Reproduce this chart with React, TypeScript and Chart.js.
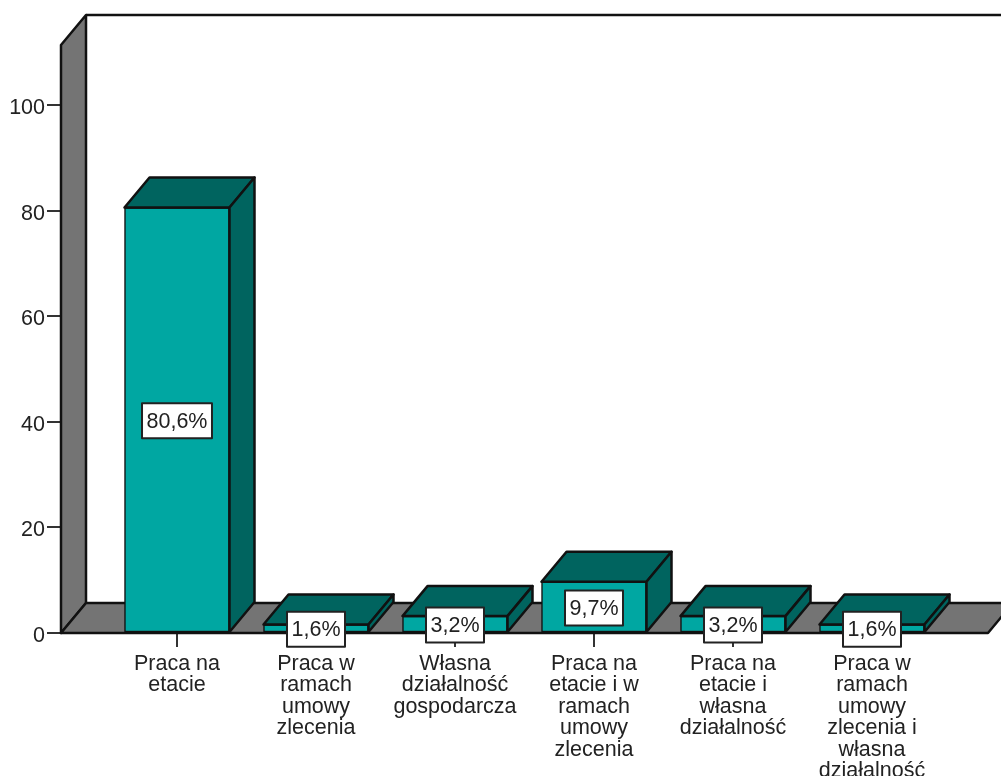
import React, { useEffect, useRef } from "react";
import { Chart, registerables } from "chart.js";

Chart.register(...registerables);

const categories: string[][] = [
  ["Praca na", "etacie"],
  ["Praca w", "ramach", "umowy", "zlecenia"],
  ["Własna", "działalność", "gospodarcza"],
  ["Praca na", "etacie i w", "ramach", "umowy", "zlecenia"],
  ["Praca na", "etacie i", "własna", "działalność"],
  ["Praca w", "ramach", "umowy", "zlecenia i", "własna", "działalność"],
];
const values = [80.6, 1.6, 3.2, 9.7, 3.2, 1.6];
const valueLabels = ["80,6%", "1,6%", "3,2%", "9,7%", "3,2%", "1,6%"];
const yTicks = [0, 20, 40, 60, 80, 100];

const FONT = '"Liberation Sans", Arial, sans-serif';
const FONT_SIZE = 21.5;
const TEAL = "#00a7a2";
const TEAL_DARK = "#00645f";
const WALL = "#747474";
const LINE = "#111111";
const DX = 25;
const DY = 30;

function poly(ctx: CanvasRenderingContext2D, pts: number[][], fill: string) {
  ctx.beginPath();
  pts.forEach((p, i) => (i ? ctx.lineTo(p[0], p[1]) : ctx.moveTo(p[0], p[1])));
  ctx.closePath();
  ctx.fillStyle = fill;
  ctx.fill();
  ctx.lineJoin = "round";
  ctx.lineWidth = 2.5;
  ctx.strokeStyle = LINE;
  ctx.stroke();
}

const boxPlugin = {
  id: "box3d",
  beforeDatasetsDraw(chart: any) {
    const { ctx, chartArea: a } = chart;
    ctx.save();
    ctx.beginPath();
    ctx.moveTo(a.left + DX, a.top - DY);
    ctx.lineTo(1001, a.top - DY);
    ctx.lineWidth = 2.5;
    ctx.strokeStyle = LINE;
    ctx.stroke();
    poly(ctx, [
      [a.left, a.top],
      [a.left + DX, a.top - DY],
      [a.left + DX, a.bottom - DY],
      [a.left, a.bottom],
    ], WALL);
    poly(ctx, [
      [a.left, a.bottom],
      [a.left + DX, a.bottom - DY],
      [a.right + DX, a.bottom - DY],
      [a.right, a.bottom],
    ], WALL);
    ctx.restore();
  },
  afterDatasetsDraw(chart: any) {
    const { ctx } = chart;
    const bars = chart.getDatasetMeta(0).data;
    ctx.save();
    bars.forEach((bar: any) => {
      const half = bar.width / 2;
      const l = bar.x - half;
      const r = bar.x + half;
      const t = bar.y;
      const b = bar.base;
      poly(ctx, [[l, t], [l + DX, t - DY], [r + DX, t - DY], [r, t]], TEAL_DARK);
      poly(ctx, [[r, t], [r + DX, t - DY], [r + DX, b - DY], [r, b]], TEAL_DARK);
    });
    ctx.font = `${FONT_SIZE}px ${FONT}`;
    ctx.textAlign = "center";
    ctx.textBaseline = "middle";
    bars.forEach((bar: any, i: number) => {
      const cy = (bar.y + bar.base) / 2 + 1;
      const w = ctx.measureText(valueLabels[i]).width + 9;
      const h = 35;
      ctx.fillStyle = "#ffffff";
      ctx.strokeStyle = "#222222";
      ctx.lineWidth = 2;
      ctx.fillRect(bar.x - w / 2, cy - h / 2, w, h);
      ctx.strokeRect(bar.x - w / 2, cy - h / 2, w, h);
      ctx.fillStyle = "#222222";
      ctx.fillText(valueLabels[i], bar.x, cy + 1);
    });
    ctx.restore();
  },
};

export default function App() {
  const ref = useRef<HTMLCanvasElement>(null);
  useEffect(() => {
    const chart = new Chart(ref.current!, {
      type: "bar",
      data: {
        datasets: [
          {
            data: values.map((v, i) => ({ x: i, y: v })),
            backgroundColor: TEAL,
            borderColor: LINE,
            borderWidth: 1.5,
            borderSkipped: false,
            barThickness: 105,
          },
        ],
      },
      plugins: [boxPlugin],
      options: {
        responsive: false,
        animation: false,
        layout: { padding: { top: 45, right: 13, left: 0, bottom: 0 } },
        plugins: {
          legend: { display: false },
          title: { display: false },
          tooltip: { enabled: false },
        },
        scales: {
          x: {
            type: "linear",
            offset: false,
            min: -0.8345,
            max: 5.8345,
            afterFit(s: any) {
              s.height = 143;
            },
            afterBuildTicks(s: any) {
              s.ticks = categories.map((_, i) => ({ value: i }));
            },
            grid: {
              offset: false,
              drawOnChartArea: false,
              drawTicks: true,
              tickLength: 14,
              color: "#333333",
              lineWidth: 2,
            },
            border: { display: false },
            ticks: {
              autoSkip: false,
              maxRotation: 0,
              minRotation: 0,
              padding: 6,
              color: "#222222",
              font: { family: FONT, size: FONT_SIZE, lineHeight: 1.0 },
              callback: (v: any) => categories[v] ?? "",
            },
          },
          y: {
            type: "linear",
            min: 0,
            max: 111.4,
            afterFit(s: any) {
              s.width = 61;
            },
            afterBuildTicks(s: any) {
              s.ticks = yTicks.map((value) => ({ value }));
            },
            grid: {
              drawOnChartArea: false,
              drawTicks: true,
              tickLength: 14,
              color: "#333333",
              lineWidth: 2,
            },
            border: { display: false },
            ticks: {
              padding: 2,
              labelOffset: 3,
              color: "#222222",
              font: { family: FONT, size: FONT_SIZE },
            },
          },
        },
      },
    } as any);
    return () => chart.destroy();
  }, []);
  return (
    <div style={{ position: "fixed", left: 0, top: 0, width: 1001, height: 776, background: "#fff", overflow: "hidden" }}>
      <canvas ref={ref} width={1001} height={776} style={{ display: "block", filter: "blur(0.5px)" }} />
    </div>
  );
}
